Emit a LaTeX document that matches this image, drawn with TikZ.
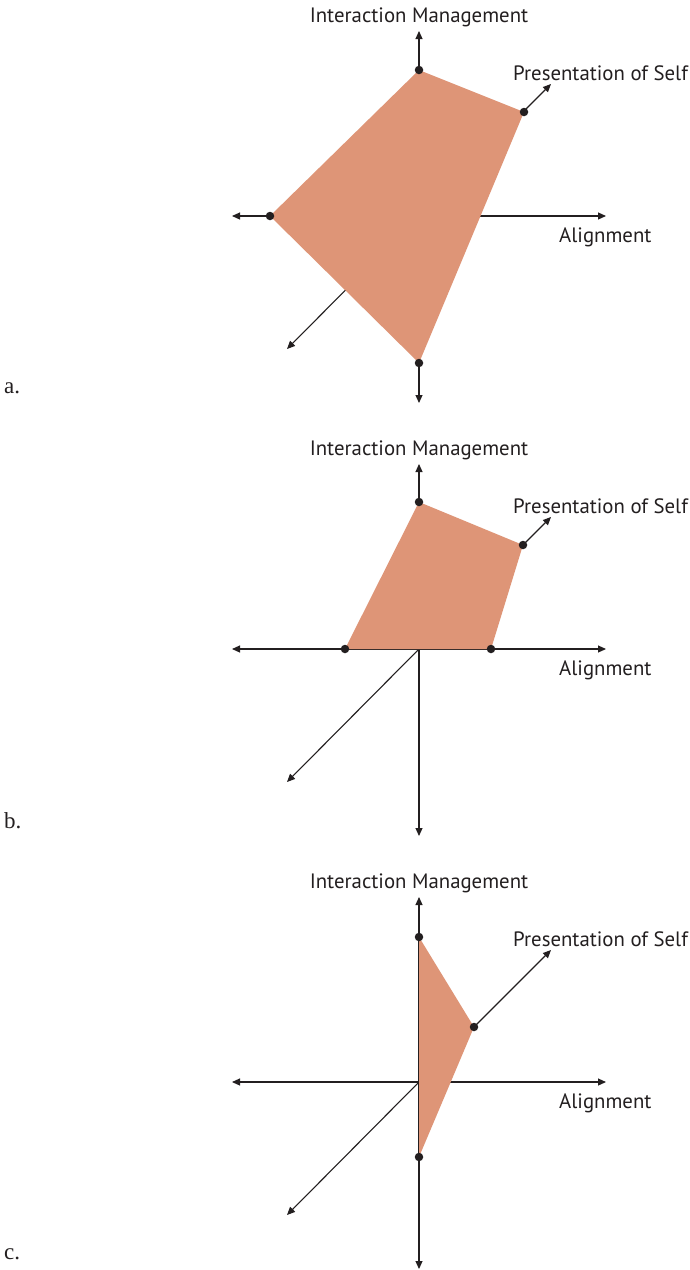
\documentclass[tikz,border=0pt]{standalone}
\usepackage{fontspec}
\newfontfamily\labfont{PT Sans}
\newfontfamily\panfont{Liberation Serif}
\usetikzlibrary{arrows.meta}
\definecolor{fillc}{HTML}{DE9577}
\definecolor{ink}{HTML}{231F20}
\tikzset{
  axis/.style={draw=ink, line width=1.1pt, -{Triangle[length=8pt,width=7pt]}},
  region/.style={fill=fillc, draw=none},
  dot/.style={circle, fill=ink, inner sep=0pt, minimum size=8.5pt},
  axlabel/.style={font=\labfont\fontsize{20.8}{24}\selectfont, text=ink, inner sep=0pt},
  panellabel/.style={font=\panfont\fontsize{23}{26}\selectfont, text=ink, inner sep=0pt, anchor=west}
}
\begin{document}
\begin{tikzpicture}[x=1pt, y=-1pt]
\useasboundingbox[fill=white] (0,0) rectangle (690,1270);
% ---------- panel a ----------
\begin{scope}
  \coordinate (a-c) at (419,216);
  \coordinate (a-n) at (419,31);
  \coordinate (a-s) at (419,403);
  \coordinate (a-w) at (232,216);
  \coordinate (a-e) at (606,216);
  \coordinate (a-ne) at (551,84);
  \coordinate (a-sw) at (287,349);
  \foreach \e in {n,s,w,e,ne,sw} \draw[axis] (a-c) -- (a-\e);
  \fill[region] (419,70) -- (524,112) -- (419,363) -- (270,216) -- cycle;
  \node[dot] (a-p1) at (419,70) {};
  \node[dot] (a-p2) at (524,112) {};
  \node[dot] (a-p3) at (419,363) {};
  \node[dot] (a-p4) at (270,216) {};
  \node[axlabel] (a-lim) at (419,17) {Interaction Management};
  \node[axlabel, anchor=west] (a-lps) at (513,73) {Presentation of Self};
  \node[axlabel, anchor=west] (a-lal) at (559,237) {Alignment};
  \node[panellabel] (a-lab) at (4,388) {a.};
\end{scope}
% ---------- panel b ----------
\begin{scope}[shift={(0,433)}]
  \coordinate (b-c) at (419,216);
  \coordinate (b-n) at (419,31);
  \coordinate (b-s) at (419,403);
  \coordinate (b-w) at (232,216);
  \coordinate (b-e) at (606,216);
  \coordinate (b-ne) at (551,84);
  \coordinate (b-sw) at (287,349);
  \foreach \e in {n,s,w,e,ne,sw} \draw[axis] (b-c) -- (b-\e);
  \fill[region] (419,69) -- (523,112) -- (491,216) -- (345,216) -- cycle;
  \node[dot] (b-p1) at (419,69) {};
  \node[dot] (b-p2) at (523,112) {};
  \node[dot] (b-p3) at (491,216) {};
  \node[dot] (b-p4) at (345,216) {};
  \node[axlabel] (b-lim) at (419,17) {Interaction Management};
  \node[axlabel, anchor=west] (b-lps) at (513,73) {Presentation of Self};
  \node[axlabel, anchor=west] (b-lal) at (559,237) {Alignment};
  \node[panellabel] (b-lab) at (4,388) {b.};
\end{scope}
% ---------- panel c ----------
\begin{scope}[shift={(0,866)}]
  \coordinate (c-c) at (419,216);
  \coordinate (c-n) at (419,31);
  \coordinate (c-s) at (419,403);
  \coordinate (c-w) at (232,216);
  \coordinate (c-e) at (606,216);
  \coordinate (c-ne) at (551,84);
  \coordinate (c-sw) at (287,349);
  \foreach \e in {n,s,w,e,ne,sw} \draw[axis] (c-c) -- (c-\e);
  \fill[region] (419,71) -- (474,161) -- (419,291) -- cycle;
  \node[dot] (c-p1) at (419,71) {};
  \node[dot] (c-p2) at (474,161) {};
  \node[dot] (c-p3) at (419,291) {};
  \node[axlabel] (c-lim) at (419,17) {Interaction Management};
  \node[axlabel, anchor=west] (c-lps) at (513,73) {Presentation of Self};
  \node[axlabel, anchor=west] (c-lal) at (559,237) {Alignment};
  \node[panellabel] (c-lab) at (4,388) {c.};
\end{scope}
\end{tikzpicture}
\end{document}
